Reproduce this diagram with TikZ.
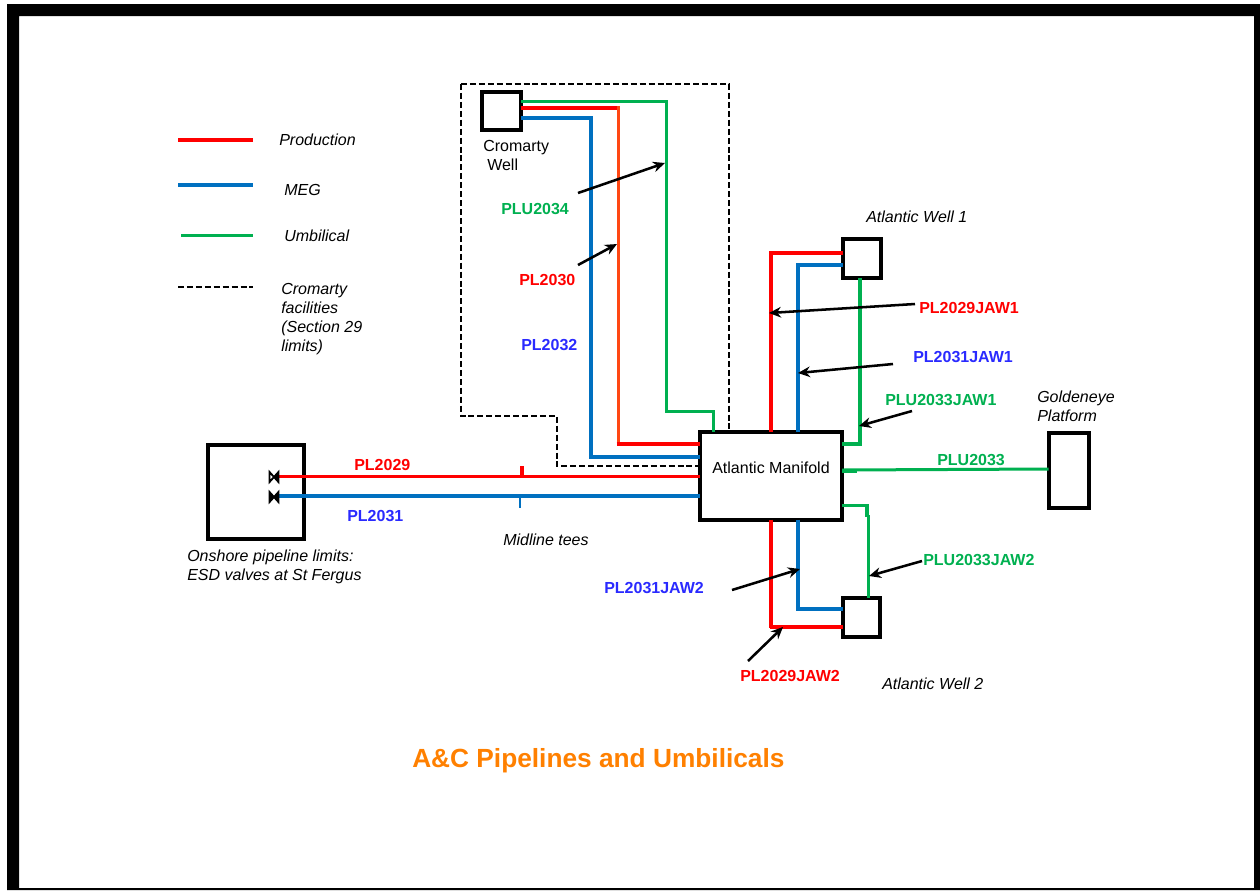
\documentclass[tikz,border=0pt]{standalone}
\usepackage{fontspec}
\setmainfont{Liberation Sans}
\usepackage{tikz}
\usetikzlibrary{arrows.meta}
\definecolor{col1}{HTML}{FF0000}
\definecolor{col2}{HTML}{FF4713}
\definecolor{col3}{HTML}{00B050}
\definecolor{col4}{HTML}{0070C0}
\definecolor{col5}{HTML}{2A2AFF}
\definecolor{col6}{HTML}{FF8000}
\begin{document}
\begin{tikzpicture}[x=0.75pt, y=-0.75pt]
    \tikzstyle{n} += [rectangle, draw=black, line width=3pt, fill=white, inner sep=0pt, outer sep=0pt, font=\fontsize{12}{14.25}\selectfont];
    \tikzstyle{t} += [inner sep=0pt, align=left, font=\fontsize{12}{14.25}\selectfont];
    \tikzstyle{ti} += [t, font=\fontsize{12}{14.25}\selectfont\itshape];
    \tikzstyle{lab} += [t, font=\fontsize{12}{14.25}\selectfont\bfseries];
    \tikzstyle{prod} += [col1, line width=3.5pt];
    \tikzstyle{meg} += [col4, line width=3pt];
    \tikzstyle{umb} += [col3, line width=2.25pt];
    \tikzstyle{lim} += [black, line width=2pt, dash pattern=on 4.5pt off 2.2pt];

    \useasboundingbox (0,0) rectangle (1260,890);
    \fill[black, even odd rule] (7,4) rectangle (1260,890) (19,16) rectangle (1254,888);

    % boxes
    \node (z_c) at (501.5, 111) [n, minimum width=29.25pt, minimum height=28.5pt] {};
    \node (z_o) at (256, 492) [n, minimum width=72pt, minimum height=70.5pt] {};
    \node (z_m) at (771, 476) [n, minimum width=106.5pt, minimum height=65.6pt] {\raisebox{2.25pt}[0pt][0pt]{Atlantic Manifold}};
    \node (z_1) at (862, 258.5) [n, minimum width=28.5pt, minimum height=29.25pt] {};
    \node (z_2) at (861.5, 617.5) [n, minimum width=27.75pt, minimum height=29.25pt] {};
    \node (z_g) at (1068.5, 470.5) [n, minimum width=30pt, minimum height=56.25pt] {};

    % legend
    \coordinate (k_1) at (178, 140);
    \coordinate (k_2) at (253, 140);
    \coordinate (k_3) at (178, 185);
    \coordinate (k_4) at (253, 185);
    \coordinate (k_5) at (181, 235);
    \coordinate (k_6) at (253, 235);
    \coordinate (k_7) at (178, 287);
    \coordinate (k_8) at (253, 287);
    \draw[prod] (k_1) -- (k_2);
    \draw[meg, line width=2.4pt] (k_3) -- (k_4);
    \draw[umb] (k_5) -- (k_6);
    \draw[lim] (k_7) -- (k_8);
    \node at (279, 145) [ti, anchor=base west] {Production};
    \node at (284, 195) [ti, anchor=base west] {MEG};
    \node at (284, 241) [ti, anchor=base west] {Umbilical};
    \node at (281, 283) [ti, anchor=north west] {Cromarty\\facilities\\(Section 29\\limits)};

    % cromarty limits
    \draw[lim] (461,84) -- (729,84) -- (z_m.north -| 729,0);
    \draw[lim] (461,84) -- (461,416) -- (557,416) -- (557,466) -- (z_m.west |- 0,466);

    % pipelines
    \draw[umb] (z_c.east |- 0,101) -- (666,101) -- (666,411) -- (713,411) -- (z_m.north -| 713,0);
    \draw[prod] (z_c.east |- 0,108) -- (618,108);
    \draw[col2, line width=2.25pt] (618,106) -- (618,444);
    \draw[prod] (616.7,444) -- (z_m.west |- 0,444);
    \draw[meg] (z_c.east |- 0,118) -- (591,118) -- (591,457) -- (z_m.west |- 0,457);

    \draw[prod, line width=2.6pt] (279,476.5) -- (z_m.west |- 0,476.5);
    \draw[meg] (279,496) -- (z_m.west |- 0,496);
    \draw[col1, line width=2.6pt] (522,466) -- (522,476);
    \draw[col4, line width=2.2pt] (520,496) -- (520,508);

    % valves
    \coordinate (v_1) at (274, 477);
    \coordinate (v_2) at (274, 497);
    \draw[black, fill=white, line width=1.4pt] (v_1) -- ++(-4.5,-5) -- ++(0,10) -- cycle;
    \draw[black, fill=black, line width=1.4pt] (v_1) -- ++(4.5,-5) -- ++(0,10) -- cycle;
    \draw[black, fill=black, line width=1.4pt] (v_2) -- ++(-4.5,-5) -- ++(0,10) -- cycle;
    \draw[black, fill=black, line width=1.4pt] (v_2) -- ++(4.5,-5) -- ++(0,10) -- cycle;

    \draw[col1, line width=2.6pt] (z_1.west |- 0,253) -- (771,253) -- (771,266);
    \draw[prod] (771,264) -- (z_m.north -| 771,0);
    \draw[meg] (z_1.west |- 0,265) -- (798,265) -- (z_m.north -| 798,0);
    \draw[umb, line width=2.6pt] (z_1.south -| 860,0) -- (860,444) -- (z_m.east |- 0,444);

    \draw[umb] (z_m.east |- 0,470) -- (z_g.west |- 0,469);
    \draw[umb, line width=3pt] (z_m.east |- 0,471) -- (857,471);
    \draw[umb] (z_m.east |- 0,505) -- (867,505);
    \draw[umb, line width=2.6pt] (867,504) -- (867,517);
    \draw[umb] (868,515) -- (z_2.north -| 868,0);
    \draw[meg] (z_m.south -| 798,0) -- (798,609) -- (z_2.west |- 0,609);
    \draw[col1, line width=2.4pt] (z_m.south -| 771,0) -- (771,628);
    \draw[prod, line width=3pt] (770,627) -- (z_2.west |- 0,627);

    % labels
    \node (l_1) at (501, 214) [lab, text=col3, anchor=base west] {PLU2034};
    \node (l_2) at (519, 285) [lab, text=col1, anchor=base west] {PL2030};
    \node (l_3) at (521, 350) [lab, text=col5, anchor=base west] {PL2032};
    \node (l_4) at (354, 470) [lab, text=col1, anchor=base west] {PL2029};
    \node (l_5) at (347, 521) [lab, text=col5, anchor=base west] {PL2031};
    \node (l_6) at (919, 313) [lab, text=col1, anchor=base west] {PL2029JAW1};
    \node (l_7) at (913, 362) [lab, text=col5, anchor=base west] {PL2031JAW1};
    \node (l_8) at (885, 405) [lab, text=col3, anchor=base west] {PLU2033JAW1};
    \node (l_9) at (937, 465) [lab, text=col3, anchor=base west] {PLU2033};
    \node (l_10) at (923, 565) [lab, text=col3, anchor=base west] {PLU2033JAW2};
    \node (l_11) at (604, 593) [lab, text=col5, anchor=base west] {PL2031JAW2};
    \node (l_12) at (740, 681) [lab, text=col1, anchor=base west] {PL2029JAW2};

    \node at (483, 140) [t, anchor=north west] {Cromarty\\[0pt]\hspace*{3pt}Well};
    \node at (866, 222) [ti, anchor=base west] {Atlantic Well 1};
    \node at (882, 689) [ti, anchor=base west] {Atlantic Well 2};
    \node at (1037, 391) [ti, anchor=north west] {Goldeneye\\Platform};
    \node at (503, 545) [ti, anchor=base west] {Midline tees};
    \node at (187, 550) [ti, anchor=north west] {Onshore pipeline limits:\\ESD valves at St Fergus};
    \node (title) at (412, 767) [inner sep=0pt, anchor=base west, text=col6, font=\fontsize{19.7}{24}\selectfont\bfseries] {A\&C Pipelines and Umbilicals};

    % pointers
    \coordinate (a_1) at (578, 193);
    \coordinate (b_1) at (665, 163);
    \coordinate (a_2) at (578, 265);
    \coordinate (b_2) at (617, 244);
    \coordinate (a_3) at (915, 304);
    \coordinate (b_3) at (769, 313);
    \coordinate (a_4) at (893, 364);
    \coordinate (b_4) at (798, 373);
    \coordinate (a_5) at (912, 411);
    \coordinate (b_5) at (859, 426);
    \coordinate (a_6) at (922, 561);
    \coordinate (b_6) at (869, 576);
    \coordinate (a_7) at (732, 590);
    \coordinate (b_7) at (800, 569);
    \coordinate (a_8) at (748, 661);
    \coordinate (b_8) at (783, 627);
    \begin{scope}[-{Stealth[length=9pt, width=8pt]}, line width=1.9pt]
      \draw (a_1) -- (b_1);
      \draw (a_2) -- (b_2);
      \draw (a_3) -- (b_3);
      \draw (a_4) -- (b_4);
      \draw (a_5) -- (b_5);
      \draw (a_6) -- (b_6);
      \draw (a_7) -- (b_7);
      \draw (a_8) -- (b_8);
    \end{scope}
\end{tikzpicture}
\end{document}
